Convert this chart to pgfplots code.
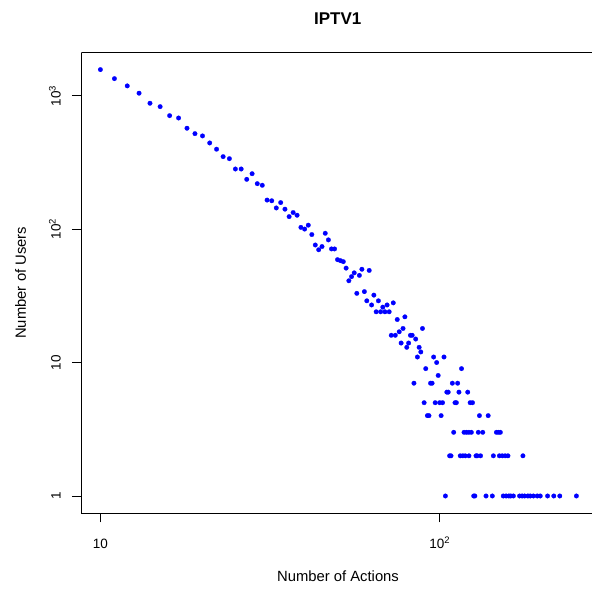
\documentclass[border=0pt]{standalone}
\usepackage{fontspec}
\setmainfont{Liberation Sans}
\usepackage{pgfplots}
\pgfplotsset{compat=1.18}
\usepackage{pgfplotstable}
\definecolor{rblue}{RGB}{0,0,255}
\pgfplotstableread{
x y
10 1567
11 1341
12 1183
13 1043
14 877
15 827
16 708
17 680
18 570
19 519
20 499
21 442
22 397
23 349
24 337
25 282
26 282
27 236
28 260
29 219
30 213
31 165
32 163
33 144
34 158
35 141
36 124
37 133
38 127
39 103
40 100
41 107
42 91
43 76
44 70
45 74
46 93
47 83
48 71
49 71
50 59
51 58
52 57
53 51
54 41
55 44
56 47
57 33
58 45
59 50
60 34
61 29
62 49
63 27
64 32
65 24
66 29
67 24
68 26
69 24
70 27
71 24
72 16
73 28
74 16
75 21
76 17
77 14
78 18
79 22
80 13
81 14
82 16
83 16
84 7
85 15
86 11
87 13
88 12
89 18
90 5
91 9
92 4
93 4
94 7
95 7
96 11
97 5
98 10
99 8
100 5
101 4
102 5
103 11
104 1
105 6
106 6
107 2
108 2
109 7
110 3
111 5
112 5
113 7
114 6
115 2
116 9
117 2
118 3
119 2
120 3
121 6
122 2
122 3
123 5
124 3
125 5
126 1
127 1
128 2
129 2
130 3
131 4
132 2
134 3
137 1
139 4
143 1
144 2
147 3
149 3
150 2
151 3
153 2
154 1
156 2
157 1
159 2
160 1
162 1
165 1
172 1
175 1
176 2
178 1
182 1
185 1
189 1
194 1
198 1
208 1
217 1
226 1
253 1
}\datatable
\begin{document}
\begin{tikzpicture}[x=1bp,y=1bp]
\path[use as bounding box] (0,0) rectangle (592,590);
\clip (0,0) rectangle (592,590);
\begin{axis}[
  at={(81.3bp,77bp)}, anchor=south west,
  scale only axis, width=515.5bp, height=460.4bp,
  xmode=log, ymode=log,
  xmin=8.785, xmax=290.6, ymin=0.7456, ymax=2102,
  axis x line*=bottom, axis y line*=left,
  xtick={10,100}, xticklabels={10,10\textsuperscript{2}},
  ytick={1,10,100,1000}, yticklabels={1,10,10\textsuperscript{2},10\textsuperscript{3}},
  xminorticks=false, yminorticks=false,
  tick align=outside, major tick length=9.5bp,
  tick style={black, line width=0.8bp},
  axis line style={black, line width=0.8bp},
  tick label style={font=\fontsize{13.5bp}{16bp}\selectfont},
  xticklabel style={anchor=base, yshift=-25.8bp},
  yticklabel style={xshift=-11.1bp, rotate=90, anchor=base},
  title={IPTV1},
  title style={font=\bfseries\fontsize{17bp}{20bp}\selectfont, at={(axis description cs:0.4975,1.049)}, anchor=base},
  xlabel={Number of Actions},
  xlabel style={font=\fontsize{14.8bp}{17bp}\selectfont, at={(axis description cs:0.498,-0.1477)}, anchor=base},
  ylabel={Number of Users},
  ylabel style={font=\fontsize{14.8bp}{17bp}\selectfont, at={(axis description cs:-0.1073,0.5)}, rotate=0, anchor=base},
]
\addplot[only marks, color=rblue, mark=*, mark size=2.3bp, mark options={draw=rblue, fill=rblue, line width=0.2bp}] table[x=x, y=y] {\datatable};
\draw[black, line width=0.8bp] (rel axis cs:0,1) -- (rel axis cs:1,1);
\end{axis}
\end{tikzpicture}
\end{document}
